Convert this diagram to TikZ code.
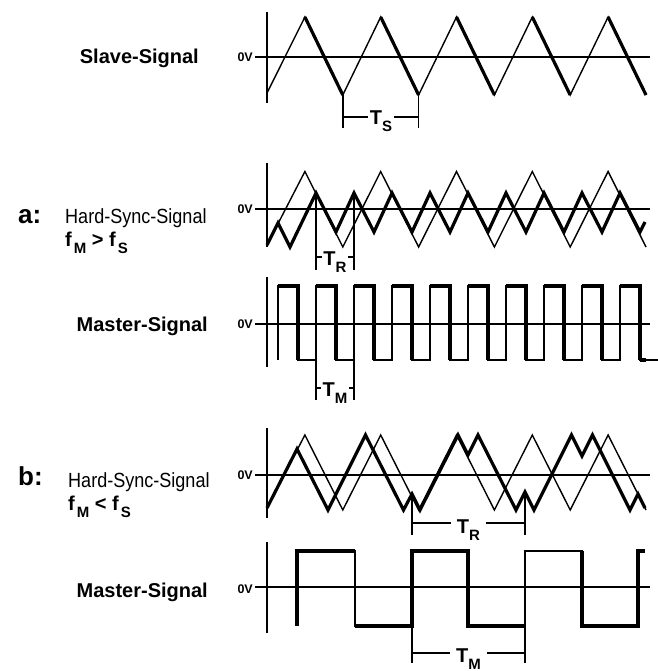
\documentclass[tikz,border=0pt]{standalone}
\usepackage{fontspec}
\setmainfont{Liberation Sans}
\newfontfamily\narrowfont[FakeStretch=0.88]{Liberation Sans}
\newcommand\lowsub[1]{\raisebox{-7pt}{\fontsize{15}{15}\selectfont #1}}

\tikzset{
  thinsig/.style={line width=1.4pt},
  thicksig/.style={line width=3.2pt},
  axisline/.style={line width=1.4pt},
  siglabel/.style={font=\fontsize{20}{24}\selectfont\bfseries, anchor=base east, inner sep=0pt},
  zerolabel/.style={font=\fontsize{12.5}{14}\selectfont\bfseries, anchor=east, inner sep=1pt},
  caselabel/.style={font=\fontsize{26}{30}\selectfont\bfseries, anchor=base west, inner sep=0pt},
  synclabel/.style={font=\fontsize{20.5}{24}\selectfont\narrowfont, anchor=base west, inner sep=0pt},
  freqlabel/.style={font=\fontsize{20}{24}\selectfont\bfseries, anchor=base west, inner sep=0pt},
  period/.style={font=\fontsize{20}{24}\selectfont\bfseries, anchor=base, inner sep=1.5pt},
}

\begin{document}
\begin{tikzpicture}[x=1pt, y=-1pt]
    \useasboundingbox (0,0) rectangle (657,671);

    % Slave-Signal
    \node[siglabel] (slave) at (199,64) {Slave-Signal};
    \node[zerolabel] (zslave) at (254,57) {0V};
    \draw[axisline] (267,12) -- (267,103);
    \draw[axisline] (255,57) -- (650,57);
    \draw[thinsig] (267,93) \foreach \k in {0,...,4} { -- ({304.9+75.8*\k},17) -- ({342.8+75.8*\k},95) };
    \foreach \k in {0,...,4}
        \draw[thicksig] ({304.9+75.8*\k},17) -- ({342.8+75.8*\k},95);
    \node[period] (ts) at (381,125) {T\lowsub{S}};
    \draw[thinsig] (342.8,95) -- (342.8,128);
    \draw[thinsig] (418.6,95) -- (418.6,128);
    \coordinate (tsl) at (342.8,117);
    \coordinate (tsr) at (418.6,117);
    \draw[thinsig] (tsl) -- (tsl -| ts.west);
    \draw[thinsig] (ts.east |- tsr) -- (tsr);

    % a: Hard-Sync-Signal, fM > fS
    \node[caselabel] (casea) at (18,223) {a:};
    \node[synclabel] (synca) at (65,223) {Hard-Sync-Signal};
    \node[freqlabel] (freqa) at (65,246) {f\kern2pt\lowsub{M} > f\kern2pt\lowsub{S}};
    \node[zerolabel] (zsynca) at (254,209) {0V};
    \draw[axisline] (267,163) -- (267,247);
    \draw[axisline] (255,209) -- (650,209);
    \draw[thinsig] (267,245) \foreach \k in {0,...,4} { -- ({304.9+75.8*\k},171.5) -- ({342.8+75.8*\k},247) };
    \draw[thicksig] (267,245) -- (278,223) -- (290,247) -- (316,193)
        \foreach \k in {0,...,7} { -- ({336+38*\k},232) -- ({354+38*\k},193) }
        -- (640,232) -- (645,222);
    \node[period] (tra) at (335,265) {T\lowsub{R}};
    \draw[thinsig] (316,193) -- (316,270);
    \draw[thinsig] (354,193) -- (354,270);
    \coordinate (tral) at (316,257);
    \coordinate (trar) at (354,257);
    \draw[thinsig] (tral) -- (tral -| tra.west);
    \draw[thinsig] (tra.east |- trar) -- (trar);

    % a: Master-Signal
    \node[siglabel] (mastera) at (208,331) {Master-Signal};
    \node[zerolabel] (zmastera) at (254,324) {0V};
    \draw[axisline] (267,277) -- (267,367);
    \draw[axisline] (255,324) -- (650,324);
    \draw[thinsig] (278,360) \foreach \k in {0,...,9} { -- ({278+38*\k},286) -- ({298+38*\k},286) -- ({298+38*\k},360) -- ({316+38*\k},360) };
    \foreach \k in {0,...,9}
        \draw[thicksig] ({278+38*\k},286) -- ({298+38*\k},286) -- ({298+38*\k},360);
    \draw[thicksig] (640,360) -- (646,360);
    \node[period] (tma) at (335,396) {T\lowsub{M}};
    \draw[thinsig] (316,360) -- (316,400);
    \draw[thinsig] (354,360) -- (354,400);
    \coordinate (tmal) at (316,388);
    \coordinate (tmar) at (354,388);
    \draw[thinsig] (tmal) -- (tmal -| tma.west);
    \draw[thinsig] (tma.east |- tmar) -- (tmar);

    % b: Hard-Sync-Signal, fM < fS
    \node[caselabel] (caseb) at (18,485) {b:};
    \node[synclabel] (syncb) at (68,487) {Hard-Sync-Signal};
    \node[freqlabel] (freqb) at (68,510) {f\kern2pt\lowsub{M} < f\kern2pt\lowsub{S}};
    \node[zerolabel] (zsyncb) at (254,475) {0V};
    \draw[axisline] (267,428) -- (267,518);
    \draw[axisline] (255,475) -- (650,475);
    \draw[thinsig] (267,508) \foreach \k in {0,...,4} { -- ({304.9+75.8*\k},435) -- ({342.8+75.8*\k},510) };
    \draw[thicksig] (267,508) -- (297,449) -- (328,510) -- (365.5,435) -- (403.5,510)
        -- (412,494) -- (420,510) -- (458,435) -- (468,455) -- (478,435) -- (516,510)
        -- (525,492) -- (534,510) -- (571.5,435) -- (582,456) -- (592.5,435) -- (630,510)
        -- (638,494) -- (645,508);
    \node[period] (trb) at (468.5,533) {T\lowsub{R}};
    \draw[thinsig] (412,494) -- (412,535);
    \draw[thinsig] (525,492) -- (525,535);
    \coordinate (trbl) at (412,523);
    \coordinate (trbr) at (525,523);
    \draw[thinsig] (trbl) -- ([xshift=-4pt]trbl -| trb.west);
    \draw[thinsig] ([xshift=4pt]trb.east |- trbr) -- (trbr);

    % b: Master-Signal
    \node[siglabel] (masterb) at (208,597) {Master-Signal};
    \node[zerolabel] (zmasterb) at (254,589) {0V};
    \draw[axisline] (267,542) -- (267,633);
    \draw[axisline] (255,587) -- (650,587);
    \draw[thinsig] (297,626) -- (297,551) -- (355,551) -- (355,626) -- (412,626) -- (412,551)
        -- (468,551) -- (468,626) -- (525,626) -- (525,551) -- (582,551) -- (582,626)
        -- (638,626) -- (638,551) -- (645,551);
    \draw[thicksig] (297,626) -- (297,551) -- (355,551);
    \draw[thicksig] (355,626) -- (412,626) -- (412,551) -- (468,551) -- (468,626) -- (525,626);
    \draw[thicksig] (582,551) -- (582,626) -- (638,626) -- (638,551) -- (645,551);
    \node[period] (tmb) at (468.5,662) {T\lowsub{M}};
    \draw[thinsig] (412,626) -- (412,663);
    \draw[thinsig] (525,626) -- (525,663);
    \coordinate (tmbl) at (412,653);
    \coordinate (tmbr) at (525,653);
    \draw[thinsig] (tmbl) -- ([xshift=-4pt]tmbl -| tmb.west);
    \draw[thinsig] ([xshift=4pt]tmb.east |- tmbr) -- (tmbr);
\end{tikzpicture}
\end{document}
